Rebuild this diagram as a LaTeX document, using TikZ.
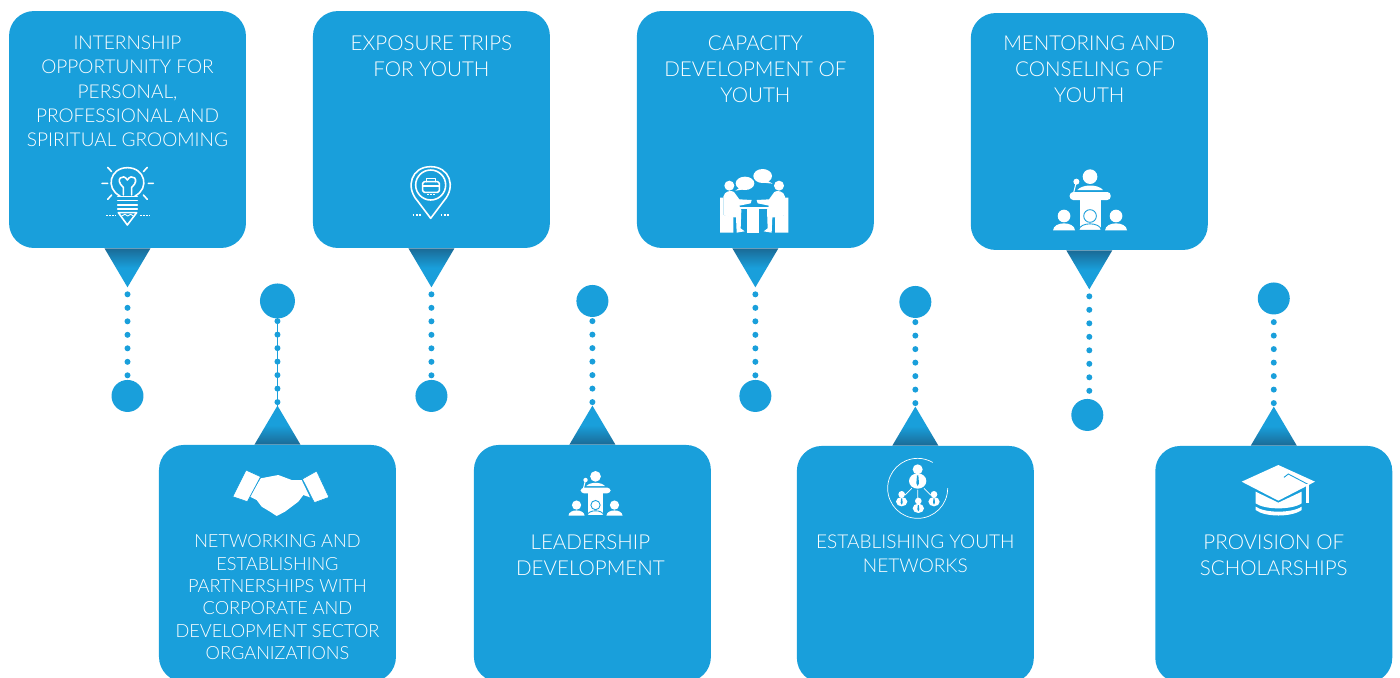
\documentclass[tikz,border=0pt]{standalone}
\usepackage{fontspec}
\setmainfont{Lato}[UprightFont=* Light]
\usetikzlibrary{arrows}
\definecolor{cardblue}{HTML}{199FDB}
\definecolor{pointdark}{HTML}{1A6A96}
\pgfdeclareverticalshading{pointfade}{100bp}{color(0bp)=(cardblue); color(50bp)=(cardblue); color(75bp)=(pointdark); color(100bp)=(pointdark)}
\tikzstyle{card} = [rectangle, rounded corners=0.5cm, minimum width=4.74cm, minimum height=4.74cm, inner sep=0pt, fill=cardblue]
\tikzstyle{cardtext} = [anchor=north, align=center, inner sep=0pt, text=white]
\tikzstyle{textlarge} = [cardtext, font=\fontsize{11.7}{14.8}\selectfont]
\tikzstyle{textmid} = [cardtext, font=\fontsize{10.85}{13.8}\selectfont]
\tikzstyle{textsmall} = [cardtext, font=\fontsize{10.35}{12.7}\selectfont]
\tikzstyle{enddot} = [circle, fill=cardblue, inner sep=0pt, minimum size=0.64cm]
\tikzstyle{bigdot} = [circle, fill=cardblue, inner sep=0pt, minimum size=0.7cm]
\tikzstyle{dotline} = [cardblue, line width=0.12cm, line cap=round, dash pattern=on 0pt off 0.27cm]
\tikzstyle{stemline} = [cardblue, line width=0.6pt]
\tikzstyle{pointdown} = [shading=pointfade]
\tikzstyle{pointup} = [shading=pointfade, shading angle=180]
\tikzstyle{iconline} = [draw=white, line width=0.9pt, line cap=round, line join=round]
\tikzstyle{icondots} = [draw=white, line width=0.9pt, dash pattern=on 1pt off 0.75pt]
\tikzstyle{iconfill} = [fill=white]
\tikzstyle{icongap} = [fill=white, draw=cardblue, line width=0.4pt, line join=round]
\newcommand{\podiumicon}[3]{
\begin{scope}[shift={(#1,#2)}, scale=#3]
\fill [iconfill] (148,50) circle [radius=22];
\fill [iconfill] (110,90) .. controls (125,72) and (172,72) .. (187,90) -- cycle;
\draw [iconline, line width=0.6pt] (107,65) -- (99,97);
\fill [iconfill] (107,65) circle [radius=9];
\fill [iconfill, rounded corners=2pt] (87,96) rectangle (210,120);
\fill [iconfill] (118,120) rectangle (180,212);
\foreach \px in {70,226} {
\fill [iconfill] (\px,168) circle [radius=19];
\fill [iconfill] (\px-33,211) .. controls (\px-31,183) and (\px+31,183) .. (\px+33,211) -- cycle;
}
\fill [iconfill, draw=cardblue, line width=0.5pt] (148,168) circle [radius=19];
\fill [iconfill, draw=cardblue, line width=0.5pt] (114,211) .. controls (116,185) and (180,185) .. (182,211) -- cycle;
\end{scope}
}
\newcommand{\seatedfigure}{
\fill [iconfill] (30,113) -- (40,113) -- (40,165) -- (70,172) -- (70,218) -- (30,218) -- cycle;
\fill [iconfill] (58,77) circle [radius=15];
\fill [iconfill] (40,110) .. controls (43,92) and (65,90) .. (72,96) -- (88,118) -- (125,120) -- (122,130) -- (88,137) -- (94,150) -- (92,205) -- (104,214) -- (80,218) -- (78,172) -- (60,172) -- (40,165) -- cycle;
}
\begin{document}
\begin{tikzpicture}[x=0.02cm, y=-0.02cm]
\useasboundingbox (0,0) rectangle (1400,677);

\node (internship) [card] at (127.5,129.5) {};
\node (exposure) [card, node distance=6.08cm, right of=internship] {};
\node (capacity) [card, node distance=6.48cm, right of=exposure] {};
\node (mentoring) [card, node distance=6.68cm, right of=capacity, yshift=-0.04cm] {};
\node (networking) [card, node distance=8.68cm, below of=internship, xshift=3cm] {};
\node (leadership) [card, node distance=6.3cm, right of=networking] {};
\node (youthnet) [card, node distance=6.46cm, right of=leadership, yshift=-0.02cm] {};
\node (scholarship) [card, node distance=7.17cm, right of=youthnet] {};

\node (internship_text) [textmid] at ([yshift=-0.5cm]internship.north) {INTERNSHIP\\OPPORTUNITY FOR\\PERSONAL,\\PROFESSIONAL AND\\SPIRITUAL GROOMING};
\node (exposure_text) [textlarge] at ([yshift=-0.5cm]exposure.north) {EXPOSURE TRIPS\\FOR YOUTH};
\node (capacity_text) [textlarge] at ([yshift=-0.5cm]capacity.north) {CAPACITY\\DEVELOPMENT OF\\YOUTH};
\node (mentoring_text) [textlarge] at ([yshift=-0.46cm]mentoring.north) {MENTORING AND\\CONSELING OF\\YOUTH};
\node (networking_text) [textsmall] at ([yshift=-1.8cm]networking.north) {NETWORKING AND\\ESTABLISHING\\PARTNERSHIPS WITH\\CORPORATE AND\\DEVELOPMENT SECTOR\\ORGANIZATIONS};
\node (leadership_text) [textlarge] at ([xshift=-0.04cm, yshift=-1.8cm]leadership.north) {LEADERSHIP\\DEVELOPMENT};
\node (youthnet_text) [textmid] at ([yshift=-1.78cm]youthnet.north) {ESTABLISHING YOUTH\\NETWORKS};
\node (scholarship_text) [textlarge] at ([yshift=-1.78cm]scholarship.north) {PROVISION OF\\SCHOLARSHIPS};

\node (internship_dot) [enddot, node distance=5.33cm, below of=internship] {};
\node (exposure_dot) [enddot, node distance=5.33cm, below of=exposure] {};
\node (capacity_dot) [enddot, node distance=5.33cm, below of=capacity] {};
\node (mentoring_dot) [enddot, node distance=5.67cm, below of=mentoring, xshift=-0.04cm] {};
\node (networking_dot) [bigdot, node distance=5.25cm, above of=networking] {};
\node (leadership_dot) [enddot, node distance=5.25cm, above of=leadership] {};
\node (youthnet_dot) [enddot, node distance=5.25cm, above of=youthnet] {};
\node (scholarship_dot) [enddot, node distance=5.32cm, above of=scholarship] {};

\coordinate (internship_tip) at ([yshift=-0.78cm]internship.south);
\coordinate (exposure_tip) at ([yshift=-0.78cm]exposure.south);
\coordinate (capacity_tip) at ([yshift=-0.78cm]capacity.south);
\coordinate (mentoring_tip) at ([yshift=-0.78cm]mentoring.south);
\coordinate (networking_tip) at ([yshift=0.78cm]networking.north);
\coordinate (leadership_tip) at ([yshift=0.78cm]leadership.north);
\coordinate (youthnet_tip) at ([yshift=0.78cm]youthnet.north);
\coordinate (scholarship_tip) at ([yshift=0.78cm]scholarship.north);

\shade [pointdown] ([xshift=-0.46cm]internship.south) -- ([xshift=0.46cm]internship.south) -- (internship_tip) -- cycle;
\shade [pointdown] ([xshift=-0.46cm]exposure.south) -- ([xshift=0.46cm]exposure.south) -- (exposure_tip) -- cycle;
\shade [pointdown] ([xshift=-0.46cm]capacity.south) -- ([xshift=0.46cm]capacity.south) -- (capacity_tip) -- cycle;
\shade [pointdown] ([xshift=-0.46cm]mentoring.south) -- ([xshift=0.46cm]mentoring.south) -- (mentoring_tip) -- cycle;
\shade [pointup] ([xshift=-0.46cm]networking.north) -- ([xshift=0.46cm]networking.north) -- (networking_tip) -- cycle;
\shade [pointup] ([xshift=-0.46cm]leadership.north) -- ([xshift=0.46cm]leadership.north) -- (leadership_tip) -- cycle;
\shade [pointup] ([xshift=-0.46cm]youthnet.north) -- ([xshift=0.46cm]youthnet.north) -- (youthnet_tip) -- cycle;
\shade [pointup] ([xshift=-0.46cm]scholarship.north) -- ([xshift=0.46cm]scholarship.north) -- (scholarship_tip) -- cycle;

\draw [dotline, shorten <=0.14cm] (internship_tip) -- (internship_dot);
\draw [dotline, shorten <=0.14cm] (exposure_tip) -- (exposure_dot);
\draw [dotline, shorten <=0.14cm] (capacity_tip) -- (capacity_dot);
\draw [dotline, shorten <=0.14cm] (mentoring_tip) -- (mentoring_tip |- mentoring_dot);
\draw [dotline, shorten <=0.07cm] (networking_tip) -- (networking_dot);
\draw [stemline] (networking_tip) -- (networking_dot);
\draw [dotline, shorten <=0.07cm] (leadership_tip) -- (leadership_dot);
\draw [dotline, shorten <=0.07cm] (youthnet_tip) -- (youthnet_dot);
\draw [dotline, shorten <=0.07cm] (scholarship_tip) -- (scholarship_dot);

\begin{scope}[shift={(90,150)}, scale=1/3]
\draw [iconline] (90,138) .. controls (45,115) and (60,53) .. (112,53) .. controls (165,53) and (180,115) .. (135,138);
\draw [iconline] (100,135) -- (100,112) .. controls (72,88) and (100,68) .. (112,90) .. controls (125,68) and (153,88) .. (125,112) -- (125,135);
\draw [iconline] (83,140) -- (142,140) (83,152) -- (142,152) (83,165) -- (142,165) (83,177) -- (142,177);
\draw [iconline] (85,188) -- (140,188) -- (112,225) -- cycle;
\draw [iconline, line width=0.5pt] (95,198) -- (105,193) -- (113,198) -- (122,193) -- (130,198);
\draw [iconline] (36,100) -- (53,100) (175,100) -- (190,100) (53,52) -- (65,65) (172,52) -- (160,65) (53,148) -- (65,135) (172,148) -- (160,135);
\draw [icondots] (48,197) -- (78,197) (150,197) -- (180,197);
\end{scope}

\begin{scope}[shift={(400,160)}, scale=1/3]
\draw [iconline] (92,175) -- (52,122) .. controls (15,80) and (35,20) .. (92,20) .. controls (149,20) and (169,80) .. (132,122) -- cycle;
\draw [iconline] (92,75) circle [radius=45];
\draw [iconline, rounded corners=1pt] (68,65) rectangle (118,97);
\draw [iconline] (80,65) -- (80,56) -- (106,56) -- (106,65) (68,78) -- (118,78);
\draw [icondots] (82,104) -- (104,104);
\draw [icondots] (38,165) -- (62,165) (122,165) -- (146,165);
\end{scope}

\begin{scope}[shift={(710,160)}, scale=1/3]
\fill [iconfill] (105,70) ellipse [x radius=28, y radius=20];
\fill [iconfill] (88,84) -- (76,92) -- (102,88) -- cycle;
\fill [iconfill] (158,48) ellipse [x radius=28, y radius=21];
\fill [iconfill] (172,62) -- (188,71) -- (160,68) -- cycle;
\seatedfigure
\begin{scope}[shift={(265,0)}, xscale=-1]
\seatedfigure
\end{scope}
\fill [iconfill] (110,140) rectangle (148,218);
\fill [iconfill] (88,140) rectangle (190,146);
\end{scope}

\podiumicon{1040.7}{160}{1/3}
\podiumicon{559.5}{464.2}{0.2433}

\begin{scope}[shift={(220,280)}, scale=1/3]
\fill [iconfill] (122,595) -- (175,585) -- (215,600) -- (245,600) -- (270,652) -- (250,645) -- (235,665) -- (215,680) -- (195,695) -- (170,708) -- (150,695) -- (125,680) -- (110,660) -- (90,650) -- cycle;
\fill [icongap] (78,570) -- (122,590) -- (82,665) -- (38,650) -- cycle;
\fill [icongap] (290,573) -- (327,652) -- (283,668) -- (247,597) -- cycle;
\end{scope}

\begin{scope}[shift={(870,400)}, scale=1/3]
\draw [iconline, line width=0.4pt] (233,265) arc [start angle=0, end angle=300, radius=90];
\draw [iconline, line width=0.4pt] (125,265) -- (105,285) (143,270) -- (143,297) (162,265) -- (182,285);
\fill [iconfill] (143,208) circle [radius=15];
\fill [iconfill] (143,243) ellipse [x radius=26, y radius=23];
\fill [cardblue] (141,226) -- (145,226) -- (147,250) -- (143,258) -- (139,250) -- cycle;
\foreach \px/\py in {95/283, 145/303, 192/283} {
\fill [iconfill] (\px,\py) circle [radius=10];
\fill [iconfill] (\px,\py+22) ellipse [x radius=17, y radius=14];
\fill [cardblue] (\px-1.5,\py+12) -- (\px+1.5,\py+12) -- (\px+3,\py+25) -- (\px,\py+31) -- (\px-3,\py+25) -- cycle;
}
\end{scope}

\begin{scope}[shift={(1220,400)}, scale=1/3]
\fill [iconfill] (65,245) -- (175,195) -- (285,245) -- (175,302) -- cycle;
\fill [iconfill] (107,275) -- (175,308) -- (245,275) -- (245,310) .. controls (215,330) and (135,330) .. (107,310) -- cycle;
\fill [iconfill] (107,320) .. controls (135,340) and (215,340) .. (245,320) -- (245,330) .. controls (215,352) and (135,352) .. (107,330) -- cycle;
\draw [cardblue, line width=0.5pt] (192,232) -- (205,222) -- (262,252) -- (262,305);
\fill [iconfill] (258,252) rectangle (267,308);
\end{scope}
\end{tikzpicture}
\end{document}
